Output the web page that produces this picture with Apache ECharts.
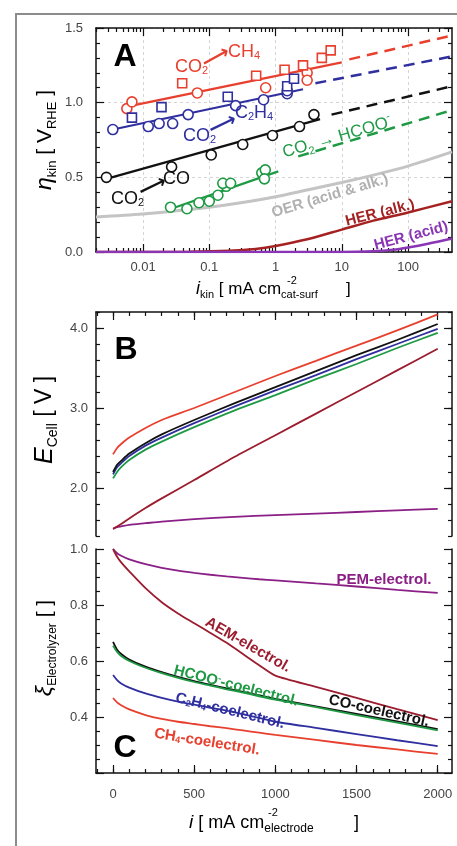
<!DOCTYPE html>
<html>
<head>
<meta charset="utf-8">
<script src="https://cdn.jsdelivr.net/npm/echarts@6.0.0/dist/echarts.min.js"></script>
<style>
  html, body { margin: 0; padding: 0; background: #fff; }
  #chart { width: 457px; height: 846px; }
</style>
</head>
<body>
<div id="chart"></div>
<script>
const FONT = '"Liberation Sans", Arial, Helvetica, sans-serif';

// ---- panel A: kinetic overpotential vs. kinetic current (log scale) ----
const ikinTicks = [0.01, 0.1, 1, 10, 100];
const ikinMin = 0.00195;
const ikinMax = 461;
// [i_kin, eta]
const ch4Circles = [[0.0057, 0.96], [0.0068, 1.005], [0.066, 1.065], [0.71, 1.10], [3.0, 1.20], [3.0, 1.15]];
const ch4Squares = [[0.039, 1.13], [0.51, 1.18], [1.37, 1.22], [2.6, 1.25], [5.0, 1.30], [6.8, 1.35]];
const c2h4Circles = [[0.0035, 0.82], [0.012, 0.84], [0.0175, 0.86], [0.028, 0.86], [0.048, 0.92], [0.25, 0.98], [0.66, 1.02], [1.5, 1.06], [1.5, 1.08]];
const c2h4Squares = [[0.0068, 0.90], [0.019, 0.97], [0.19, 1.04], [1.5, 1.11], [1.9, 1.16]];
const coCircles = [[0.0028, 0.50], [0.027, 0.57], [0.107, 0.65], [0.32, 0.72], [0.9, 0.78], [2.3, 0.84], [3.8, 0.92]];
const hcooCircles = [[0.026, 0.30], [0.046, 0.29], [0.07, 0.33], [0.1, 0.34], [0.135, 0.38], [0.18, 0.44], [0.16, 0.46], [0.21, 0.46], [0.62, 0.53], [0.7, 0.55], [0.68, 0.49]];
const ch4Fit = [[0.006, 0.975], [10, 1.27]];
const ch4Extrap = [[13, 1.29], [461, 1.45]];
const c2h4Fit = [[0.0035, 0.82], [2.6, 1.09]];
const c2h4Extrap = [[4, 1.13], [461, 1.31]];
const coFit = [[0.0028, 0.49], [4.7, 0.89]];
const coExtrap = [[7, 0.92], [461, 1.11]];
const hcooFit = [[0.023, 0.28], [1.1, 0.54]];
const hcooExtrap = [[2.2, 0.64], [461, 0.95]];
const oerCurve = [[0.00195, 0.235], [0.01, 0.255], [0.03, 0.275], [0.1, 0.30], [0.3, 0.33], [1, 0.37], [3, 0.415], [10, 0.465], [30, 0.515], [100, 0.575], [461, 0.67]];
const herAlkCurve = [[0.00195, 0], [0.05, 0.002], [0.2, 0.008], [0.5, 0.02], [1, 0.04], [3, 0.085], [10, 0.15], [30, 0.21], [100, 0.265], [461, 0.34]];
const herAcidCurve = [[0.00195, 0], [10, 0], [30, 0.005], [60, 0.015], [100, 0.03], [200, 0.055], [461, 0.09]];

// ---- panel B: cell voltage vs. current density ----
const iCell = [0, 25, 50, 100, 200, 300, 500, 750, 1000, 1250, 1500, 1750, 2000];
const ecellCH4  = [2.42, 2.50, 2.55, 2.63, 2.75, 2.85, 3.00, 3.20, 3.40, 3.59, 3.78, 3.97, 4.17];
const ecellCO   = [2.20, 2.29, 2.34, 2.43, 2.56, 2.67, 2.85, 3.06, 3.26, 3.46, 3.66, 3.85, 4.05];
const ecellC2H4 = [2.17, 2.26, 2.31, 2.40, 2.53, 2.63, 2.81, 3.02, 3.22, 3.41, 3.61, 3.80, 3.99];
const ecellHCOO = [2.12, 2.20, 2.26, 2.35, 2.48, 2.58, 2.76, 2.97, 3.16, 3.36, 3.55, 3.75, 3.94];
const ecellAEM  = [1.49, 1.52, 1.55, 1.62, 1.75, 1.87, 2.10, 2.39, 2.66, 2.93, 3.20, 3.47, 3.74];
const ecellPEM  = [1.49, 1.51, 1.52, 1.54, 1.56, 1.58, 1.61, 1.64, 1.66, 1.68, 1.70, 1.72, 1.74];
const ecellTicks = [2, 3, 4];

// ---- panel C: electrolyzer efficiency vs. current density ----
const iEff = [0, 25, 50, 100, 200, 300, 400, 500, 600, 700, 800, 900, 1000, 1250, 1500, 1750, 2000];
const effPEM  = [1.0, 0.985, 0.976, 0.963, 0.946, 0.933, 0.923, 0.915, 0.908, 0.902, 0.897, 0.892, 0.888, 0.877, 0.866, 0.854, 0.843];
const effAEM  = [1.0, 0.972, 0.952, 0.920, 0.860, 0.810, 0.770, 0.735, 0.700, 0.665, 0.625, 0.585, 0.548, 0.508, 0.468, 0.428, 0.389];
const effCO   = [0.668, 0.640, 0.625, 0.605, 0.580, 0.560, 0.543, 0.528, 0.515, 0.502, 0.490, 0.477, 0.465, 0.438, 0.411, 0.384, 0.357];
const effHCOO = [0.655, 0.632, 0.618, 0.600, 0.576, 0.557, 0.540, 0.525, 0.512, 0.499, 0.487, 0.474, 0.462, 0.435, 0.407, 0.380, 0.352];
const effC2H4 = [0.550, 0.532, 0.520, 0.505, 0.484, 0.468, 0.455, 0.444, 0.433, 0.423, 0.410, 0.397, 0.383, 0.361, 0.339, 0.317, 0.296];
const effCH4  = [0.468, 0.452, 0.442, 0.427, 0.407, 0.393, 0.383, 0.375, 0.367, 0.360, 0.352, 0.344, 0.336, 0.318, 0.300, 0.284, 0.268];
const iTicks = [0, 500, 1000, 1500, 2000];
const iMin = -105;
const iMax = 2088;

const RED = '#e8402f', BLUE = '#2f2f9f', BLACK = '#111', GREEN = '#1e9a44';
const AEM = '#9b1c2e', PEM = '#8b1f86', OER = '#c4c4c4', HERALK = '#a52222', HERACID = '#8a35b5';

const lg = Math.log10;
const toLog = arr => arr.map(p => [lg(p[0]), p[1]]);
const zip = (xs, ys) => xs.map((x, k) => [x, ys[k]]);

// minor tick positions of the log axis (2..9 per decade)
const logMinor = [];
for (let d = -3; d <= 2; d++) {
  for (let k = 2; k <= 9; k++) {
    const v = k * Math.pow(10, d);
    if (v > ikinMin && v < ikinMax) logMinor.push(lg(v));
  }
}
const iMinor = [];
for (let v = -100; v <= 2000; v += 100) iMinor.push(v);

const lineStyleAxis = { color: '#111', width: 1.5 };
const tickStyle = { color: '#111', width: 1.2 };
const labelStyle = { color: '#444', fontSize: 13, fontFamily: FONT };
const dashedGrid = { show: true, lineStyle: { color: '#d4d4d4', type: [3, 3], width: 1 } };

function xAx(grid, pos, min, max, opt) {
  return Object.assign({
    type: 'value', gridIndex: grid, position: pos, min, max,
    axisLine: { show: true, onZero: false, lineStyle: lineStyleAxis },
    axisTick: { show: true, inside: true, length: 8, lineStyle: tickStyle },
    axisLabel: { show: false },
    splitLine: { show: false }
  }, opt);
}
const yAx = xAx;

const xAxes = [
  // A bottom major
  xAx(0, 'bottom', lg(ikinMin), lg(ikinMax), {
    axisTick: { show: true, inside: true, length: 8, lineStyle: tickStyle, customValues: ikinTicks.map(lg) },
    axisLabel: Object.assign({ show: true, margin: 9, customValues: ikinTicks.map(lg),
      formatter: v => String(+Math.pow(10, v).toPrecision(1)) }, labelStyle),
    splitLine: dashedGrid
  }),
  // A bottom minor
  xAx(0, 'bottom', lg(ikinMin), lg(ikinMax), {
    axisLine: { show: false, onZero: false },
    axisTick: { show: true, inside: true, length: 4, lineStyle: tickStyle, customValues: logMinor }
  }),
  // A top major / minor
  xAx(0, 'top', lg(ikinMin), lg(ikinMax), {
    axisTick: { show: true, inside: true, length: 8, lineStyle: tickStyle, customValues: ikinTicks.map(lg) }
  }),
  xAx(0, 'top', lg(ikinMin), lg(ikinMax), {
    axisLine: { show: false, onZero: false },
    axisTick: { show: true, inside: true, length: 4, lineStyle: tickStyle, customValues: logMinor }
  }),
  // B top major / minor
  xAx(1, 'top', iMin, iMax, {
    axisTick: { show: true, inside: true, length: 8, lineStyle: tickStyle, customValues: iTicks }
  }),
  xAx(1, 'top', iMin, iMax, {
    axisLine: { show: false, onZero: false },
    axisTick: { show: true, inside: true, length: 4, lineStyle: tickStyle, customValues: iMinor }
  }),
  // C bottom major / minor
  xAx(2, 'bottom', iMin, iMax, {
    axisTick: { show: true, inside: true, length: 8, lineStyle: tickStyle, customValues: iTicks },
    axisLabel: Object.assign({ show: true, margin: 15, customValues: iTicks, formatter: v => String(v) }, labelStyle)
  }),
  xAx(2, 'bottom', iMin, iMax, {
    axisLine: { show: false, onZero: false },
    axisTick: { show: true, inside: true, length: 4, lineStyle: tickStyle, customValues: iMinor }
  })
];

const yAxes = [
  // A left / right
  yAx(0, 'left', 0, 1.5, {
    interval: 0.5,
    minorTick: { show: true, splitNumber: 5, length: 4, lineStyle: tickStyle },
    axisLabel: Object.assign({ show: true, margin: 13, formatter: v => v.toFixed(1) }, labelStyle),
    splitLine: dashedGrid
  }),
  yAx(0, 'right', 0, 1.5, {
    interval: 0.5,
    minorTick: { show: true, splitNumber: 5, length: 4, lineStyle: tickStyle }
  }),
  // B left major / minor, right major / minor
  yAx(1, 'left', 1.4, 4.2, {
    axisTick: { show: true, inside: true, length: 8, lineStyle: tickStyle, customValues: ecellTicks },
    axisLabel: Object.assign({ show: true, margin: 8, customValues: ecellTicks, formatter: v => v.toFixed(1) }, labelStyle)
  }),
  yAx(1, 'left', 1.4, 4.2, {
    interval: 0.2, axisLine: { show: false, onZero: false },
    axisTick: { show: true, inside: true, length: 4, lineStyle: tickStyle }
  }),
  yAx(1, 'right', 1.4, 4.2, {
    axisTick: { show: true, inside: true, length: 8, lineStyle: tickStyle, customValues: ecellTicks }
  }),
  yAx(1, 'right', 1.4, 4.2, {
    interval: 0.2, axisLine: { show: false, onZero: false },
    axisTick: { show: true, inside: true, length: 4, lineStyle: tickStyle }
  }),
  // C left / right
  yAx(2, 'left', 0.2, 1.0, {
    interval: 0.2,
    minorTick: { show: true, splitNumber: 4, length: 4, lineStyle: tickStyle },
    axisLabel: Object.assign({ show: true, margin: 8, formatter: v => (v < 0.3 ? '' : v.toFixed(1)) }, labelStyle)
  }),
  yAx(2, 'right', 0.2, 1.0, {
    interval: 0.2,
    minorTick: { show: true, splitNumber: 4, length: 4, lineStyle: tickStyle }
  })
];

function curveA(data, color, width, dashed) {
  return {
    type: 'line', xAxisIndex: 0, yAxisIndex: 0, data: toLog(data),
    symbol: 'none', smooth: data.length > 2 ? 0.3 : false, silent: true,
    lineStyle: { color, width, type: dashed ? [11, 7] : 'solid' }, z: 3
  };
}
function marksA(data, color, shape) {
  return {
    type: 'scatter', xAxisIndex: 0, yAxisIndex: 0, data: toLog(data),
    symbol: shape, symbolSize: shape === 'rect' ? 9 : 10, silent: true,
    itemStyle: { color: '#fff', borderColor: color, borderWidth: 1.6, opacity: 1 }, z: 4
  };
}
function curveB(vals, color) {
  return {
    type: 'line', xAxisIndex: 4, yAxisIndex: 2, data: zip(iCell, vals),
    symbol: 'none', smooth: 0.25, silent: true,
    lineStyle: { color, width: 1.8 }
  };
}
function curveC(vals, color) {
  return {
    type: 'line', xAxisIndex: 6, yAxisIndex: 6, data: zip(iEff, vals),
    symbol: 'none', smooth: 0.25, silent: true,
    lineStyle: { color, width: 1.8 }
  };
}

const series = [
  curveA(oerCurve, OER, 3),
  curveA(herAlkCurve, HERALK, 2.5),
  curveA(herAcidCurve, HERACID, 2.5),
  curveA(ch4Fit, RED, 2.2), curveA(ch4Extrap, RED, 2.5, true),
  curveA(c2h4Fit, BLUE, 2.2), curveA(c2h4Extrap, BLUE, 2.5, true),
  curveA(coFit, BLACK, 2.2), curveA(coExtrap, BLACK, 2.5, true),
  curveA(hcooFit, GREEN, 2.2), curveA(hcooExtrap, GREEN, 2.5, true),
  marksA(ch4Circles, RED, 'circle'), marksA(ch4Squares, RED, 'rect'),
  marksA(c2h4Circles, BLUE, 'circle'), marksA(c2h4Squares, BLUE, 'rect'),
  marksA(coCircles, BLACK, 'circle'), marksA(hcooCircles, GREEN, 'circle'),
  curveB(ecellPEM, PEM), curveB(ecellAEM, AEM),
  curveB(ecellHCOO, GREEN), curveB(ecellC2H4, BLUE), curveB(ecellCO, BLACK), curveB(ecellCH4, RED),
  curveC(effPEM, PEM), curveC(effAEM, AEM),
  curveC(effCH4, RED), curveC(effC2H4, BLUE), curveC(effCO, BLACK), curveC(effHCOO, GREEN)
];

// text helper with sub/superscript tokens: {s|..} sub, {p|..} sup, {i|..} italic
function txt(x, y, text, o) {
  o = o || {};
  const size = o.size || 15;
  const color = o.color || '#000';
  const weight = o.weight || 'bold';
  const small = Math.round(size * (o.subScale || 0.62));
  const lh = Math.round(size * 1.35);
  const align = o.align || 'center';
  const tok = (extra) => Object.assign({ fontSize: size, fontFamily: FONT, fontWeight: weight, fill: color, lineHeight: lh, verticalAlign: 'middle' }, extra);
  return {
    type: 'text', x, y, rotation: o.rot || 0, z: 100, silent: true,
    style: {
      text, fill: color, fontSize: size, fontFamily: o.family || FONT, fontWeight: weight,
      fontStyle: o.italic ? 'italic' : 'normal',
      align, textAlign: align, verticalAlign: 'middle', textVerticalAlign: 'middle',
      rich: {
        n: tok({}),
        i: tok({ fontStyle: 'italic', fontSize: Math.round(size * 1.08) }),
        s: tok({ fontSize: small, lineHeight: small, verticalAlign: 'bottom' }),
        p: tok({ fontSize: small, lineHeight: small, verticalAlign: 'top' })
      }
    }
  };
}
const ARROW = { size: 20, weight: 'bold', family: '"DejaVu Sans", sans-serif' };

const graphics = [
  { type: 'rect', silent: true, z: -10, shape: { x: 16, y: 14, width: 520, height: 900 },
    style: { fill: 'none', stroke: '#8c8c8c', lineWidth: 2 } },
  // panel letters
  txt(125, 57, 'A', { size: 32 }),
  txt(126, 350, 'B', { size: 32 }),
  txt(125, 748, 'C', { size: 32 }),
  // axis titles
  txt(45, 140, '{i|η}{s|kin}{n| [ V}{s|RHE}{n| ]}', { size: 21, weight: 'normal', rot: Math.PI / 2 }),
  txt(196, 289, '{i|i}{s|kin}{n| [ mA cm}{s|cat-surf}', { size: 17, weight: 'normal', align: 'left', subScale: 0.65 }),
  txt(287, 281, '-2', { size: 11, weight: 'normal', align: 'left' }),
  txt(346, 289, ']', { size: 17, weight: 'normal', align: 'left' }),
  txt(45, 420, '{i|E}{s|Cell}{n| [ V ]}', { size: 23, weight: 'normal', rot: Math.PI / 2 }),
  txt(45, 648, '{i|ξ}{s|Electrolyzer}{n| [ ]}', { size: 21, weight: 'normal', rot: Math.PI / 2, subScale: 0.55 }),
  txt(189, 823, '{i|i}{n| [ mA cm}{s|electrode}', { size: 18, weight: 'normal', align: 'left', subScale: 0.65 }),
  txt(268, 813, '-2', { size: 11, weight: 'normal', align: 'left' }),
  txt(354, 823, ']', { size: 18, weight: 'normal', align: 'left' }),
  // panel A annotations
  txt(175, 67, 'CO{s|2}', { size: 18, weight: 'normal', color: RED, align: 'left' }),
  txt(216, 58, '⟶', Object.assign({ color: RED, rot: 0.5 }, ARROW)),
  txt(228, 52, 'CH{s|4}', { size: 18, weight: 'normal', color: RED, align: 'left' }),
  txt(183, 136, 'CO{s|2}', { size: 18, weight: 'normal', color: BLUE, align: 'left' }),
  txt(223, 125, '⟶', Object.assign({ color: BLUE, rot: 0.45 }, ARROW)),
  txt(235, 113, 'C{s|2}H{s|4}', { size: 18, weight: 'normal', color: BLUE, align: 'left' }),
  txt(111, 199, 'CO{s|2}', { size: 18, weight: 'normal', color: BLACK, align: 'left' }),
  txt(153, 187, '⟶', Object.assign({ color: BLACK, rot: 0.45 }, ARROW)),
  txt(163, 179, 'CO', { size: 18, weight: 'normal', color: BLACK, align: 'left' }),
  txt(283, 153, 'CO{s|2} {n|→} HCOO{p|-}', { size: 17, weight: 'normal', color: GREEN, align: 'left', rot: 0.28 }),
  txt(330, 196, 'OER (acid & alk.)', { size: 15, color: '#b0b0b0', rot: 0.29 }),
  txt(380, 213, 'HER (alk.)', { size: 15, color: HERALK, rot: 0.25 }),
  txt(411, 236, 'HER (acid)', { size: 15, color: HERACID, rot: 0.26 }),
  // panel C annotations
  txt(384, 580, 'PEM-electrol.', { size: 15, color: PEM }),
  txt(248, 645, 'AEM-electrol.', { size: 15, color: AEM, rot: -0.52 }),
  txt(236, 686, 'HCOO{p|-}-coelectrol.', { size: 15, color: GREEN, rot: -0.25 }),
  txt(230, 711, 'C{s|2}H{s|4}-coelectrol.', { size: 15, color: BLUE, rot: -0.24 }),
  txt(379, 711, 'CO-coelectrol.', { size: 15, color: BLACK, rot: -0.22 }),
  txt(207, 742, 'CH{s|4}-coelectrol.', { size: 15, color: RED, rot: -0.16 })
];

const chart = echarts.init(document.getElementById('chart'));
chart.setOption({
  animation: false,
  backgroundColor: '#fff',
  textStyle: { fontFamily: FONT },
  grid: [
    { left: 96, top: 28, width: 356, height: 224 },
    { left: 96, top: 312, width: 356, height: 224 },
    { left: 96, top: 549, width: 356, height: 224 }
  ],
  xAxis: xAxes,
  yAxis: yAxes,
  series: series,
  graphic: graphics
});
</script>
</body>
</html>
